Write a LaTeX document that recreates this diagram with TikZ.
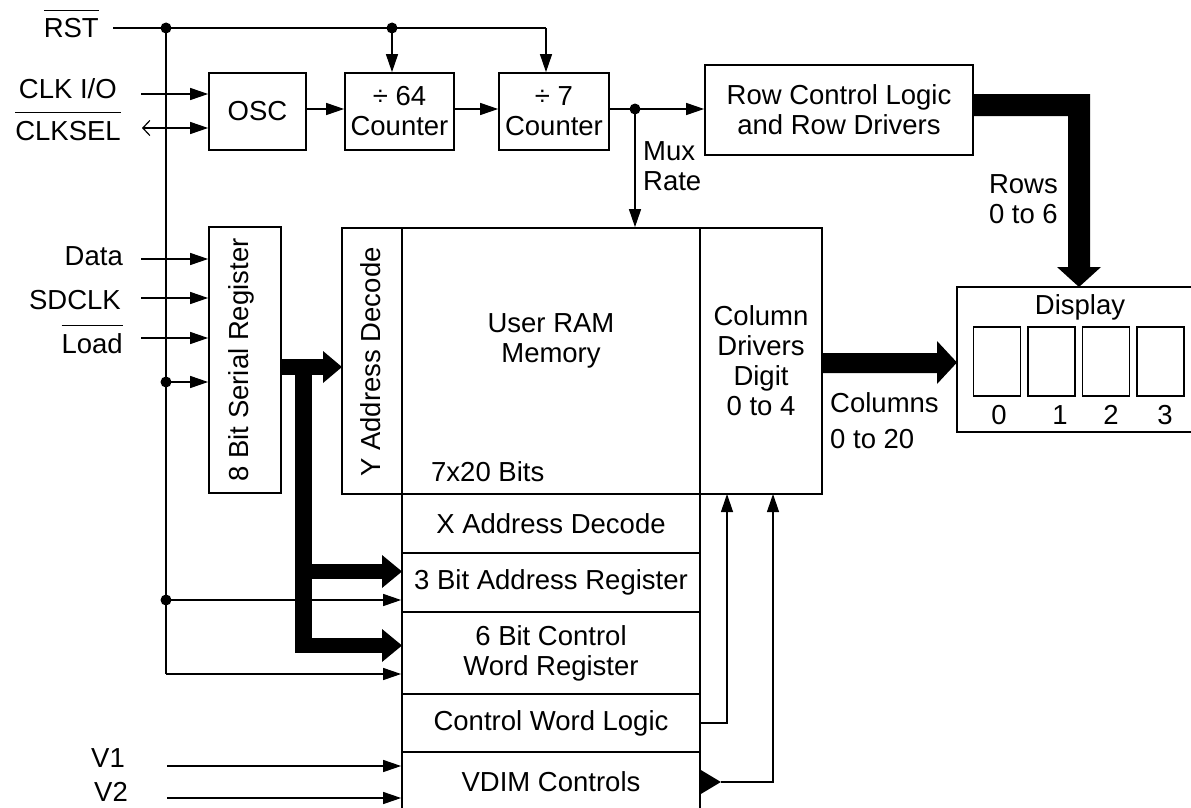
\documentclass[tikz,border=0pt]{standalone}
\usepackage{fontspec}
\setmainfont{Liberation Sans}
\usetikzlibrary{arrows.meta,calc}
\newcommand\ovl[1]{\leavevmode\setbox0\hbox{#1}\rlap{\rule[27pt]{\wd0}{1.2pt}}\box0}
\tikzset{
  fnt/.style={font=\fontsize{27.5}{30}\selectfont},
  box/.style={draw, line width=1.7pt, inner sep=0pt, align=center, fnt},
  dig/.style={draw, line width=1.4pt, inner sep=0pt, minimum width=47pt, minimum height=69pt},
  lbl/.style={inner sep=0pt, fnt, align=center},
  sig/.style={line width=1.2pt, -{Triangle[length=18pt,width=12pt]}},
  wire/.style={line width=1.2pt},
  junc/.style={circle, fill=black, inner sep=0pt, minimum size=11pt},
}
\begin{document}
\begin{tikzpicture}[x=1pt,y=-1pt]
\useasboundingbox (0,0) rectangle (1191,808);

% ---- blocks
\node[box, minimum width=97pt, minimum height=77pt] (osc) at (257.5,111.5) {OSC};
\node[box, minimum width=109pt, minimum height=77pt] (d64) at (399.5,111.5) {÷ 64\\Counter};
\node[box, minimum width=110pt, minimum height=77pt] (d7) at (554,111.5) {÷ 7\\Counter};
\node[box, minimum width=268pt, minimum height=90pt] (row) at (839,110) {Row Control Logic\\and Row Drivers};
\node[box, minimum width=72pt, minimum height=266pt] (ser) at (245,360) {};
\node[lbl, rotate=90] (sert) at (241,360) {8 Bit Serial Register};
\node[box, minimum width=60pt, minimum height=266pt] (ydec) at (372,361) {};
\node[lbl, rotate=90] (ydect) at (371,362) {Y Address Decode};
\node[box, minimum width=298pt, minimum height=266pt] (mem) at (551,361) {};
\node[lbl] (memt) at (551,341) {User RAM\\Memory};
\node[lbl, anchor=west] (bits) at (431,472) {7x20 Bits};
\node[box, minimum width=122pt, minimum height=266pt] (col) at (761,361) {Column\\Drivers\\Digit\\0 to 4};
\node[box, minimum width=298pt, minimum height=59pt] (xdec) at (551,523.5) {X Address Decode};
\node[box, minimum width=298pt, minimum height=59pt] (addr) at (551,582.5) {3 Bit Address Register};
\node[box, minimum width=298pt, minimum height=82pt] (cwr) at (551,653) {6 Bit Control\\Word Register};
\node[box, minimum width=298pt, minimum height=58pt] (cwl) at (551,723) {Control Word Logic};
\node[box, minimum width=298pt, minimum height=60pt] (vdim) at (551,782) {VDIM Controls};

% ---- display
\node[box, minimum width=238pt, minimum height=145pt] (disp) at (1076,359.5) {};
\node[lbl] (dispt) at (1080,307) {Display};
\node[dig] (g0) at (997,361.5) {};
\node[dig] (g1) at (1051.5,361.5) {};
\node[dig] (g2) at (1106,361.5) {};
\node[dig] (g3) at (1160.5,361.5) {};
\node[lbl] (n0) at (999,415) {0};
\node[lbl] (n1) at (1060,415) {1};
\node[lbl] (n2) at (1111,415) {2};
\node[lbl] (n3) at (1165,415) {3};

% ---- pin labels
\node[lbl, anchor=base east] (rst) at (99,38) {\ovl{RST}};
\node[lbl, anchor=base east] (clkio) at (117,98) {CLK I/O};
\node[lbl, anchor=base east] (clksel) at (121,140) {\ovl{CLKSEL}};
\node[lbl, anchor=base east] (data) at (123,265) {Data};
\node[lbl, anchor=base east] (sdclk) at (121,309) {SDCLK};
\node[lbl, anchor=base east] (load) at (123,353) {\ovl{Load}};
\node[lbl, anchor=base east] (v1) at (125,767) {V1};
\node[lbl, anchor=base east] (v2) at (128,801) {V2};

% ---- reset network
\coordinate (rs) at (113,28);
\node[junc] (j1) at (166,28) {};
\node[junc] (j2) at (392,28) {};
\coordinate (r7) at (546,28);
\draw[wire] (rs) -- (r7);
\draw[sig] (r7) -- (r7 |- d7.north);
\draw[sig] (j2.center) -- (j2.center |- d64.north);
\coordinate (rb) at (166,674);
\draw[wire] (j1.center) -- (rb);
\draw[sig] (rb) -- (rb -| cwr.west);
\node[junc] (j3) at (166,382) {};
\draw[sig] (j3.center) -- (j3.center -| ser.west);
\node[junc] (j4) at (166,600) {};
\draw[sig] (j4.center) -- (j4.center -| addr.west);

% ---- clock inputs
\coordinate (ci) at (141,94);
\draw[sig] (ci) -- (ci -| osc.west);
\coordinate (cs) at (142,128);
\draw[line width=1.2pt, {Straight Barb[length=7pt,width=15pt]}-{Triangle[length=18pt,width=12pt]}] (cs) -- (cs -| osc.west);

% ---- serial inputs
\coordinate (di) at (141,259);
\draw[sig] (di) -- (di -| ser.west);
\coordinate (si) at (141,298);
\draw[sig] (si) -- (si -| ser.west);
\coordinate (li) at (141,338);
\draw[sig] (li) -- (li -| ser.west);

% ---- V inputs
\coordinate (vi1) at (167,766);
\draw[sig] (vi1) -- (vi1 -| vdim.west);
\coordinate (vi2) at (167,798);
\draw[sig] (vi2) -- (vi2 -| vdim.west);

% ---- counter chain
\draw[sig] ([yshift=2.5pt]osc.east) -- ([yshift=2.5pt]d64.west);
\draw[sig] ([yshift=2.5pt]d64.east) -- ([yshift=2.5pt]d7.west);
\node[junc] (m) at (635,109) {};
\draw[wire] ([yshift=2.5pt]d7.east) -- (m.center);
\draw[sig] (m.center) -- (m.center -| row.west);
\draw[sig] (m.center) -- (m.center |- mem.north);
\node[lbl, anchor=west, align=left] (mux) at (643,166) {Mux\\Rate};

% ---- control outputs
\coordinate (c1) at (727,494);
\draw[sig] (cwl.east) -| (c1);
\fill ([yshift=12pt]vdim.east) -- ([xshift=20pt]vdim.east) -- ([yshift=-12pt]vdim.east) -- cycle;
\coordinate (c2) at (773,494);
\draw[sig] ([xshift=20pt]vdim.east) -| (c2);

% ---- buses
\fill (973,94) -- (1090,94) -- (1090,267) -- (1101,267) -- (1079,287) -- (1057,267) -- (1068,267) -- (1068,116) -- (973,116) -- cycle;
\fill (822,353) -- (937,353) -- (937,341) -- (957,362.5) -- (937,384) -- (937,373) -- (822,373) -- cycle;
\fill (281,359) rectangle (323,375);
\fill (323,351) -- (342,367) -- (323,383) -- cycle;
\fill (295,359) rectangle (312,653);
\fill (312,564) rectangle (382,579);
\fill (382,555) -- (402,571.5) -- (382,588) -- cycle;
\fill (312,638) rectangle (382,653);
\fill (382,629) -- (402,645.5) -- (382,662) -- cycle;

\node[lbl, anchor=east, align=right] (rows) at (1058,199) {Rows\\0 to 6};
\node[lbl, anchor=west] (cols) at (830,403) {Columns};
\node[lbl, anchor=west] (cols2) at (830,439) {0 to 20};
\end{tikzpicture}
\end{document}
